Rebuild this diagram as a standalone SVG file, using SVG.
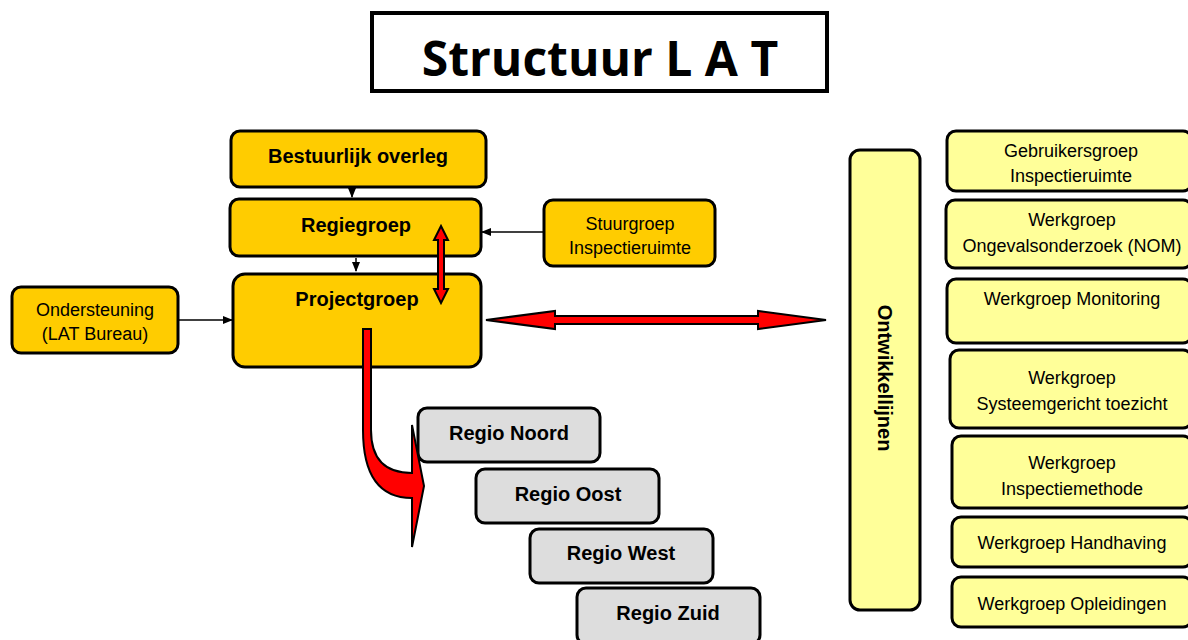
<svg xmlns="http://www.w3.org/2000/svg" width="1188" height="640" viewBox="0 0 1188 640">
<defs>
<style>
.org{fill:#FFCC00;stroke:#000;stroke-width:3}
.wg{fill:#FFFF99;stroke:#000;stroke-width:3}
.reg{fill:#DDDDDD;stroke:#000;stroke-width:3}
.b{font-family:"Liberation Sans",Arial,sans-serif;font-weight:bold;font-size:20px;fill:#000;text-anchor:middle}
.n{font-family:"Liberation Sans",Arial,sans-serif;font-size:18px;fill:#000;text-anchor:middle}
.red{fill:#FF0000;stroke:#000;stroke-width:2;stroke-linejoin:miter}
.line{stroke:#000;stroke-width:1.5;fill:none}
</style>
<marker id="ah" markerWidth="10" markerHeight="10" refX="9" refY="5" orient="auto" markerUnits="userSpaceOnUse">
<path d="M0,1 L10,5 L0,9 Z" fill="#000"/>
</marker>
</defs>
<rect width="1188" height="640" fill="#fff"/>

<g id="title">
<rect x="372" y="13" width="455" height="78" fill="#fff" stroke="#000" stroke-width="4"/>
<text x="600" y="76" font-family="'Open Sans',sans-serif" font-weight="bold" font-size="48" text-anchor="middle">Structuur L A T</text>
</g>

<g id="bestuurlijk">
<rect class="org" x="231" y="131" width="255" height="56" rx="9"/>
<text class="b" x="358" y="163">Bestuurlijk overleg</text>
</g>
<g id="regiegroep">
<rect class="org" x="230" y="199" width="251" height="57" rx="9"/>
<text class="b" x="356" y="232">Regiegroep</text>
</g>
<g id="projectgroep">
<rect class="org" x="233" y="274" width="248" height="93" rx="12"/>
<text class="b" x="357" y="306">Projectgroep</text>
</g>
<g id="stuurgroep">
<rect class="org" x="544" y="200" width="171" height="66" rx="9"/>
<text class="n" x="630" y="230">Stuurgroep</text>
<text class="n" x="630" y="254">Inspectieruimte</text>
</g>
<g id="ondersteuning">
<rect class="org" x="12" y="287" width="166" height="66" rx="9"/>
<text class="n" x="95" y="316">Ondersteuning</text>
<text class="n" x="95" y="340">(LAT Bureau)</text>
</g>

<g id="ontwikkellijnen">
<rect class="wg" x="850" y="150" width="70" height="460" rx="10"/>
<text class="b" transform="translate(878,378) rotate(90)" x="0" y="0">Ontwikkellijnen</text>
</g>

<g id="wg1">
<rect class="wg" x="947" y="131" width="245" height="60" rx="9"/>
<text class="n" x="1071" y="157">Gebruikersgroep</text>
<text class="n" x="1071" y="182">Inspectieruimte</text>
</g>
<g id="wg2">
<rect class="wg" x="946" y="200" width="246" height="68" rx="9"/>
<text class="n" x="1072" y="226">Werkgroep</text>
<text class="n" x="1072" y="252">Ongevalsonderzoek (NOM)</text>
</g>
<g id="wg3">
<rect class="wg" x="947" y="279" width="245" height="64" rx="9"/>
<text class="n" x="1072" y="305">Werkgroep Monitoring</text>
</g>
<g id="wg4">
<rect class="wg" x="950" y="350" width="242" height="78" rx="9"/>
<text class="n" x="1072" y="384">Werkgroep</text>
<text class="n" x="1072" y="410">Systeemgericht toezicht</text>
</g>
<g id="wg5">
<rect class="wg" x="952" y="436" width="240" height="72" rx="9"/>
<text class="n" x="1072" y="469">Werkgroep</text>
<text class="n" x="1072" y="495">Inspectiemethode</text>
</g>
<g id="wg6">
<rect class="wg" x="952" y="517" width="240" height="50" rx="9"/>
<text class="n" x="1072" y="549">Werkgroep Handhaving</text>
</g>
<g id="wg7">
<rect class="wg" x="952" y="577" width="240" height="50" rx="9"/>
<text class="n" x="1072" y="610">Werkgroep Opleidingen</text>
</g>

<g id="noord">
<rect class="reg" x="418" y="408" width="182" height="54" rx="9"/>
<text class="b" x="509" y="440">Regio Noord</text>
</g>
<g id="oost">
<rect class="reg" x="476" y="469" width="183" height="54" rx="9"/>
<text class="b" x="568" y="501">Regio Oost</text>
</g>
<g id="west">
<rect class="reg" x="530" y="529" width="183" height="54" rx="9"/>
<text class="b" x="621" y="560">Regio West</text>
</g>
<g id="zuid">
<rect class="reg" x="577" y="588" width="183" height="56" rx="9"/>
<text class="b" x="668" y="620">Regio Zuid</text>
</g>

<g id="connectors">
<line class="line" x1="352" y1="187" x2="352" y2="197" marker-end="url(#ah)"/>
<line class="line" x1="356" y1="258" x2="356" y2="271" marker-end="url(#ah)"/>
<line class="line" x1="543" y1="232" x2="482" y2="232" marker-end="url(#ah)"/>
<line class="line" x1="178" y1="320" x2="232" y2="320" marker-end="url(#ah)"/>
<path class="red" d="M441,226 L448,240 L444,240 L444,289 L448,289 L441,303 L434,289 L438,289 L438,240 L434,240 Z"/>
<path class="red" d="M486,320 L555,311 L555,316 L758,316 L758,311 L826,320 L758,329 L758,324 L555,324 L555,329 Z"/>
<path class="red" d="M363,329 L371,329 L371,430 Q371,473 412,473 L412,425 L424,486 L412,547 L412,498 Q363,498 363,430 Z"/>
</g>
</svg>
